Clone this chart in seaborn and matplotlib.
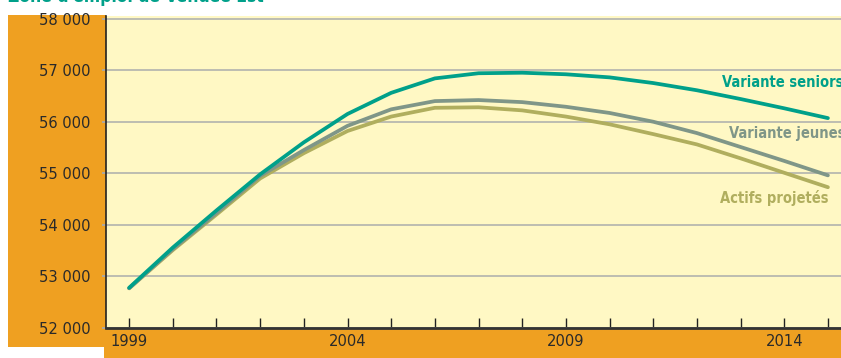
import numpy as np
import pandas as pd
import matplotlib
matplotlib.use('Agg')
import matplotlib.pyplot as plt
import seaborn as sns
from matplotlib.patches import Rectangle
from matplotlib import font_manager

years = list(range(1999, 2016))
seniors = [52780, 53560, 54280, 54980, 55600, 56150, 56560, 56840, 56940, 56950,
           56920, 56860, 56750, 56610, 56440, 56260, 56070]
jeunes = [52770, 53530, 54230, 54950, 55450, 55920, 56240, 56400, 56420, 56380,
          56290, 56170, 56000, 55780, 55510, 55240, 54960]
actifs = [52770, 53510, 54200, 54900, 55390, 55820, 56100, 56270, 56280, 56220,
          56100, 55950, 55760, 55560, 55290, 55010, 54730]

series_names = ['Variante seniors', 'Variante jeunes', 'Actifs projetés']
series_colors = ['#00A08A', '#7F9688', '#B0AE5E']
yticks = [52000, 53000, 54000, 55000, 56000, 57000, 58000]
xlabels = [1999, 2004, 2009, 2014]

df = pd.DataFrame({
    'annee': years * 3,
    'actifs': seniors + jeunes + actifs,
    'serie': [series_names[0]] * len(years) + [series_names[1]] * len(years)
             + [series_names[2]] * len(years),
})

sns.set_theme(style='white')
names = {f.name for f in font_manager.fontManager.ttflist}
if 'Liberation Sans Narrow' in names:
    plt.rcParams['font.family'] = ['Liberation Sans Narrow', 'DejaVu Sans']
else:
    plt.rcParams['font.family'] = ['DejaVu Sans']
    plt.rcParams['font.stretch'] = 'condensed'

W, H = 841, 358
fig = plt.figure(figsize=(W / 100, H / 100), dpi=100)
fig.patch.set_facecolor('white')

orange = '#EFA021'
# left orange panel and bottom strip, behind the axes
fig.patches.append(Rectangle((8 / W, (H - 347) / H), (106 - 8) / W, (347 - 15) / H,
                             transform=fig.transFigure, facecolor=orange, edgecolor='none', zorder=-10))
fig.patches.append(Rectangle((104 / W, 0), 1 - 104 / W, (H - 328) / H,
                             transform=fig.transFigure, facecolor=orange, edgecolor='none', zorder=-10))

ax = fig.add_axes([106 / W, (H - 328) / H, 1 - 106 / W, (328 - 16) / H])
ax.set_facecolor('#FFF8C4')

sns.lineplot(data=df, x='annee', y='actifs', hue='serie', hue_order=series_names[::-1],
             palette=dict(zip(series_names, series_colors)), linewidth=2.7,
             legend=False, ax=ax)

ax.set_xlim(1998.47, 2015.3)
ax.set_ylim(52000, 58050)
ax.set_yticks(yticks)
ax.set_yticklabels([f'{v // 1000} 000' for v in yticks], fontsize=11.8, color='#2a2a2a')
ax.yaxis.grid(True, color='#B8B8B0', linewidth=1.3)
ax.set_axisbelow(True)
ax.set_xticks(years)
ax.set_xticklabels([str(y) if y in xlabels else '' for y in years], fontsize=11.8, color='#2a2a2a')
ax.tick_params(axis='x', direction='in', length=7, width=1, color='#222222', pad=4, bottom=True)
ax.tick_params(axis='y', length=3, color='#aaaaaa', left=True, pad=8)
ax.set_xlabel('')
ax.set_ylabel('')

for side in ['top', 'right']:
    ax.spines[side].set_visible(False)
ax.spines['left'].set_color('#222222')
ax.spines['bottom'].set_color('#333333')
ax.spines['left'].set_linewidth(1.2)
ax.spines['bottom'].set_linewidth(2)

# series labels
ax.text(2012.58, 56760, 'Variante seniors', color=series_colors[0], fontsize=10.5,
        fontweight='bold', ha='left', va='center', clip_on=False)
ax.text(2012.74, 55770, 'Variante jeunes', color=series_colors[1], fontsize=10.5,
        fontweight='bold', ha='left', va='center', clip_on=False)
ax.text(2012.52, 54520, 'Actifs projetés', color=series_colors[2], fontsize=10.5,
        fontweight='bold', ha='left', va='center', clip_on=False)

# title, mostly cut off at the top edge as in the source
fig.text(8 / W, (H - 2) / H, "Zone d'emploi de Vendée Est", color='#00A08A', fontsize=12.5,
         fontweight='bold', ha='left', va='baseline')

fig.savefig('out.png', dpi=100)
